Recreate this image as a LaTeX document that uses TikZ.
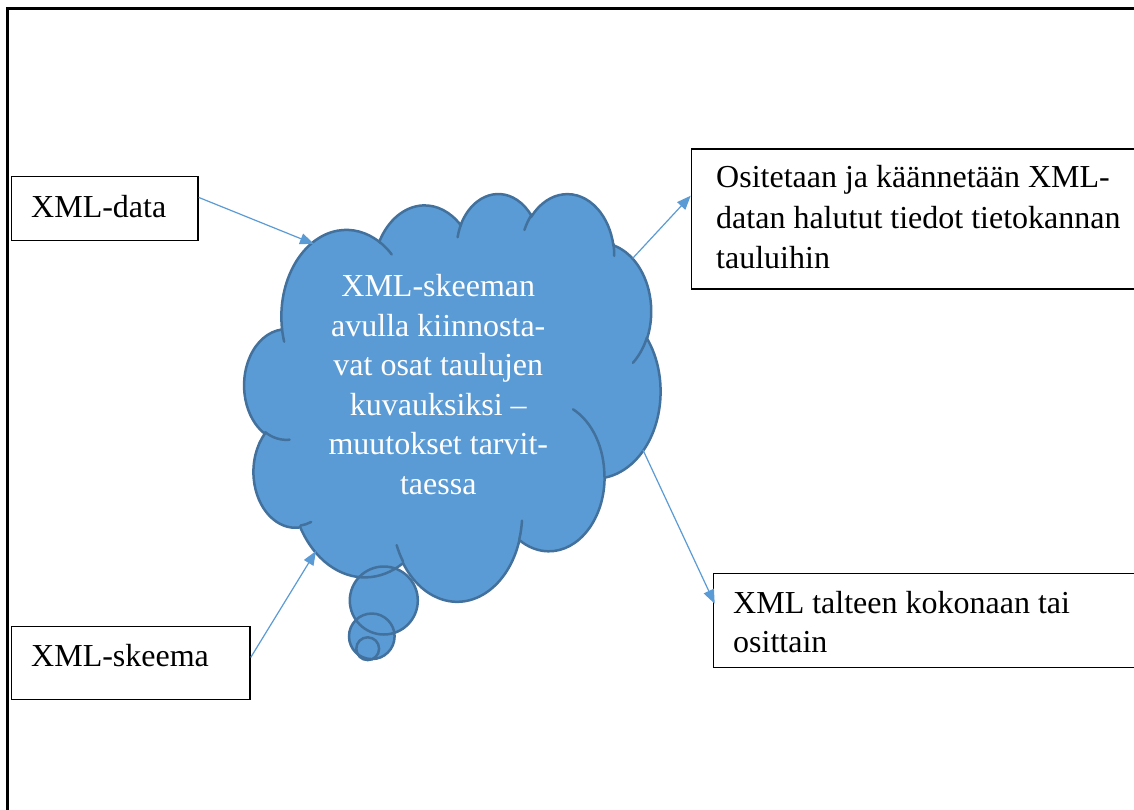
\documentclass[tikz,border=0pt]{standalone}
\usepackage{fontspec}
\setmainfont{Liberation Serif}
\usetikzlibrary{arrows.meta}
\definecolor{cloudfill}{HTML}{5B9BD5}
\definecolor{cloudline}{HTML}{41719C}
\definecolor{connblue}{HTML}{5B9BD5}
% visual (OOXML) angle -> parametric ellipse angle
\pgfmathdeclarefunction{vispar}{3}{%
  \begingroup
  \pgfmathparse{(#1) + mod(atan2((#2)*sin(#1), (#3)*cos(#1)) - (#1) + 900, 360) - 180}%
  \pgfmathsmuggle\pgfmathresult
  \endgroup}
\def\cX{244.4}\def\cY{192.7}\def\csx{0.96296}\def\csy{0.94352}
\newcommand\cloudpath{%
  (\cX+39.00*\csx, \cY+143.70*\csy)
  \foreach \a/\b/\s/\w in {67.53/91.90/-190.4875/123.7805,
      53.33/72.67/-144.1024/89.9452,
      43.65/59.45/-145.8079/99.7230,
      48.57/65.95/-130.9861/117.2417,
      53.33/72.73/-78.7089/109.0269,
      67.75/92.20/-46.2673/130.2690,
      57.85/78.67/0.6250/114.0333,
      67.52/92.15/22.4516/115.1726,
      77.20/105.43/66.2426/75.7110,
      43.60/59.18/-274.9421/146.7356,
      43.45/59.45/-246.8285/152.5189}
  { arc[start angle={-vispar(\s,\a,\b)}, end angle={-vispar(\s+\w,\a,\b)},
        x radius={\a*\csx*1pt}, y radius={\b*\csy*1pt}] } -- cycle}
\tikzset{
  boxnode/.style={draw=black, line width=1.4pt, rectangle, inner sep=0pt, anchor=north west},
  txt/.style={inner sep=0pt, font=\fontsize{32}{40}\selectfont},
  conn/.style={draw=connblue, line width=1.2pt, -{Triangle[length=14pt,width=11pt]}},
  cloudedge/.style={draw=cloudline, line width=2.5pt},
}
\begin{document}
\begin{tikzpicture}[x=1pt, y=-1pt]
\useasboundingbox (0,0) rectangle (1134,809);
\clip (0,0) rectangle (1134,809);
\fill[white] (0,0) rectangle (1134,809);
% page frame
\draw[line width=2.4pt] (7.3,830) -- (7.3,8.3) -- (1160,8.3);
% boxes
\node[boxnode, minimum width=186.3pt, minimum height=64pt] (databox) at (11,176) {};
\node[boxnode, minimum width=238.3pt, minimum height=72.7pt] (skeemabox) at (11,626) {};
\node[boxnode, minimum width=470pt, minimum height=140pt] (ositbox) at (690.7,148.3) {};
\node[boxnode, minimum width=450pt, minimum height=94pt] (tallbox) at (712.7,572.7) {};
% cloud callout: fills
\fill[cloudfill] \cloudpath;
\fill[cloudfill] (383.8,600.5) circle[radius=34pt];
\fill[cloudfill] (371.8,636.3) circle[radius=22.8pt];
\fill[cloudfill] (367.7,648.7) circle[radius=11.4pt];
% cloud callout: outlines
\draw[cloudedge] \cloudpath;
\draw[cloudedge] (383.8,600.5) circle[radius=34pt];
\draw[cloudedge] (371.8,636.3) circle[radius=22.8pt];
\draw[cloudedge] (367.7,648.7) circle[radius=11.4pt];
\draw[cloudedge, line cap=round]
  \foreach \px/\py/\a/\b/\s/\w in {
      46.93/261.77/43.45/59.45/86.7420/26.4295,
      69.28/348.99/43.60/59.18/73.6105/11.4475,
      164.78/390.90/67.52/92.15/137.6242/14.0811,
      288.27/347.51/67.52/92.15/6.4533/15.9984,
      341.29/229.54/57.85/78.67/-70.2924/70.9174,
      417.98/153.54/53.33/72.73/30.3180/27.7515,
      383.24/54.26/48.57/65.95/-13.7443/14.8589,
      290.78/39.52/48.57/65.95/-149.1815/18.1954,
      221.41/47.20/43.65/59.45/-163.4943/17.6864,
      140.00/51.92/67.53/91.90/-66.7070/12.3194,
      41.27/157.89/67.53/91.90/157.6544/11.8582}
  { (\cX+\px*\csx, \cY+\py*\csy)
    arc[start angle={-vispar(\s,\a,\b)}, end angle={-vispar(\s+\w,\a,\b)},
        x radius={\a*\csx*1pt}, y radius={\b*\csy*1pt}] };
% connector ends on the cloud
\coordinate (c1) at (314,244);
\coordinate (c2) at (316,551);
\coordinate (c3) at (632.7,258.3);
\coordinate (c4) at (643,450);
% connectors
\draw[conn] ([yshift=11.3pt]databox.east) -- (c1);
\draw[conn] ([yshift=5.6pt]skeemabox.east) -- (c2);
\draw[conn] (c3) -- ([yshift=23.3pt]ositbox.west);
\draw[conn] (c4) -- ([xshift=2pt,yshift=16.7pt]tallbox.west);
% texts
\node[txt, anchor=base west] (datatxt) at (31,217) {XML-data};
\node[txt, anchor=base west] (skeematxt) at (31,666.7) {XML-skeema};
\node[txt, anchor=base west] (osittxt) at (716,187.5)
  {\parbox[t]{420pt}{\fontsize{32}{40.5}\selectfont\raggedright
   Ositetaan ja käännetään XML-\\datan halutut tiedot tietokannan\\tauluihin}};
\node[txt, anchor=base west] (talltxt) at (733,613)
  {\parbox[t]{400pt}{\fontsize{32}{39}\selectfont\raggedright
   XML talteen kokonaan tai\\osittain}};
\node[txt, anchor=base, text=white] (cloudtxt) at (438.3,296.7)
  {\parbox[t]{400pt}{\fontsize{32}{39.5}\selectfont\centering
   XML-skeeman\\avulla kiinnosta-\\vat osat taulujen\\kuvauksiksi –\\muutokset tarvit-\\taessa}};
\end{tikzpicture}
\end{document}
